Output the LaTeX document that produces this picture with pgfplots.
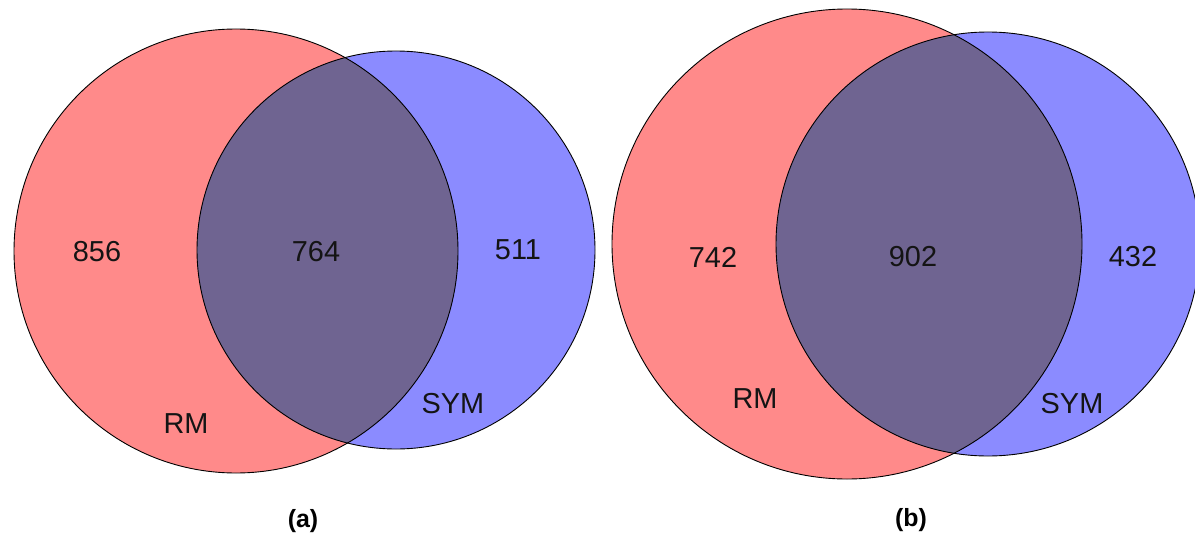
\documentclass[border=0pt]{standalone}
\usepackage{pgfplots}
\pgfplotsset{compat=1.18}
\usepackage{fontspec}
\setmainfont{Liberation Sans}

\definecolor{rmfill}{HTML}{FF8A8A}
\definecolor{symfill}{HTML}{8B8BFF}
\definecolor{bothfill}{HTML}{6F6491}

% centre x, centre y, radius (1 unit = 1bp)
\newcommand{\venn}[6]{%
  \fill[rmfill] (axis cs:#1,#2) circle[radius=#3bp];
  \fill[symfill] (axis cs:#4,#5) circle[radius=#6bp];
  \begin{scope}
    \clip (axis cs:#1,#2) circle[radius=#3bp];
    \fill[bothfill] (axis cs:#4,#5) circle[radius=#6bp];
  \end{scope}
  \draw[black, line width=0.9bp] (axis cs:#1,#2) circle[radius=#3bp];
  \draw[black, line width=0.9bp] (axis cs:#4,#5) circle[radius=#6bp];
}

\begin{document}
\begin{tikzpicture}
\begin{axis}[
  scale only axis,
  width=1195bp, height=535bp,
  xmin=0, xmax=1195, ymin=0, ymax=535,
  y dir=reverse,
  axis lines=none,
  clip=true,
]
% keep the full canvas as the picture's extent
\path (axis cs:0,0) rectangle (axis cs:1195,535);
% (a)
\venn{236}{251}{222}{396}{250}{199}
% (b)
\venn{847}{244}{235}{988}{244}{212}

\begin{scope}[every node/.style={font=\fontsize{29}{33}\selectfont, text=black!92}]
  \node at (axis cs:97,252) {856};
  \node at (axis cs:316,252) {764};
  \node at (axis cs:518,250) {511};
  \node at (axis cs:186,424) {RM};
  \node at (axis cs:453,404) {SYM};
  \node at (axis cs:713,257) {742};
  \node at (axis cs:913,257) {902};
  \node at (axis cs:1133,257) {432};
  \node at (axis cs:755,399) {RM};
  \node at (axis cs:1072,404) {SYM};
\end{scope}
\node[font=\fontsize{25}{29}\selectfont\bfseries] at (axis cs:303,521) {(a)};
\node[font=\fontsize{25}{29}\selectfont\bfseries] at (axis cs:911,520) {(b)};
\end{axis}
\end{tikzpicture}
\end{document}
